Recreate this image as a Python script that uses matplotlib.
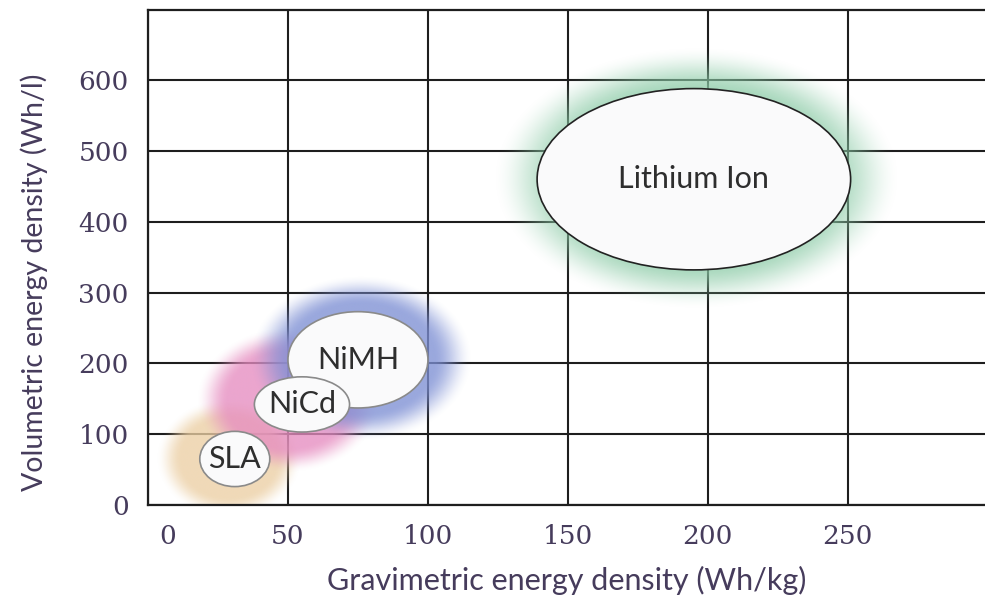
import matplotlib
matplotlib.use('Agg')
import matplotlib.pyplot as plt
import numpy as np
from matplotlib.patches import Ellipse
from matplotlib.colors import to_rgb
from matplotlib.transforms import ScaledTranslation

# battery chemistries: white ellipse (centre, width, height) and soft glow extent
names = ['SLA', 'NiCd', 'NiMH', 'Lithium Ion']
grav_center = [31, 55, 75, 195]
vol_center = [65, 142, 205, 460]
grav_width = [25, 34, 50, 112]
vol_height = [78, 78, 136, 256]
glow_center_x = [29, 50, 76, 196]
glow_center_y = [66, 148, 206, 462]
glow_width = [52, 66, 80, 146]
glow_height = [170, 205, 235, 372]
glow_colors = ['#eccfa4', '#e68cc0', '#7d8fd4', '#8ccba7']

x_ticks = [0, 50, 100, 150, 200, 250]
y_ticks = [0, 100, 200, 300, 400, 500, 600]

text_color = '#463c5c'

fig = plt.figure(figsize=(9.85, 6.08), dpi=100)
ax = fig.add_axes([148 / 985, 103 / 608, 837 / 985, 495 / 608])
ax.set_xlim(0, 299)
ax.set_ylim(0, 699)

ax.set_xticks(x_ticks)
ax.set_yticks(y_ticks)
ax.grid(True, color='#1e1e1e', linewidth=1.5, zorder=1)
ax.set_axisbelow(True)
ax.spines['right'].set_visible(False)
for side in ['left', 'bottom', 'top']:
    ax.spines[side].set_color('#1e1e1e')
    ax.spines[side].set_linewidth(1.6)
ax.tick_params(length=0, labelsize=19, labelcolor=text_color)
ax.tick_params(axis='y', pad=14)
ax.tick_params(axis='x', pad=14)
for lab in ax.get_xticklabels() + ax.get_yticklabels():
    lab.set_fontfamily('DejaVu Serif')

# the "0" label sits right of the axis origin in the original
first = ax.xaxis.get_major_ticks()[0].label1
first.set_transform(first.get_transform() + ScaledTranslation(0.2, 0, fig.dpi_scale_trans))

ax.set_xlabel('Gravimetric energy density (Wh/kg)', fontsize=22, color=text_color,
              family='Lato', labelpad=12)
ax.set_ylabel('Volumetric energy density (Wh/l)', fontsize=20.5, color=text_color,
              family='Lato')
ax.yaxis.set_label_coords(-0.12, 0.45)

# soft glows
for cx, cy, w, h, c in zip(glow_center_x, glow_center_y, glow_width, glow_height, glow_colors):
    xs = np.linspace(cx - w / 2, cx + w / 2, 300)
    ys = np.linspace(cy - h / 2, cy + h / 2, 300)
    X, Y = np.meshgrid(xs, ys)
    r = np.sqrt(((X - cx) / (w / 2)) ** 2 + ((Y - cy) / (h / 2)) ** 2)
    t = np.clip((1 - r) / 0.35, 0, 1)
    alpha = t * t * (3 - 2 * t) * 0.78
    img = np.zeros((300, 300, 4))
    img[..., :3] = to_rgb(c)
    img[..., 3] = alpha
    ax.imshow(img, extent=(cx - w / 2, cx + w / 2, cy - h / 2, cy + h / 2),
              origin='lower', aspect='auto', zorder=2, interpolation='bilinear')

# white ellipses with labels, NiCd drawn over NiMH
for i in [3, 2, 1, 0]:
    edge = '#222222' if names[i] == 'Lithium Ion' else '#8a8a8a'
    ax.add_patch(Ellipse((grav_center[i], vol_center[i]), grav_width[i], vol_height[i],
                         facecolor='#fafafb', edgecolor=edge, linewidth=1.2,
                         zorder=4 if i < 2 else 3))
    ax.text(grav_center[i], vol_center[i], names[i], ha='center', va='center',
            fontsize=22, color='#2e2e2e', family='Lato', zorder=5)

ax.set_xlim(0, 299)
ax.set_ylim(0, 699)

fig.savefig('out.png', dpi=100)
